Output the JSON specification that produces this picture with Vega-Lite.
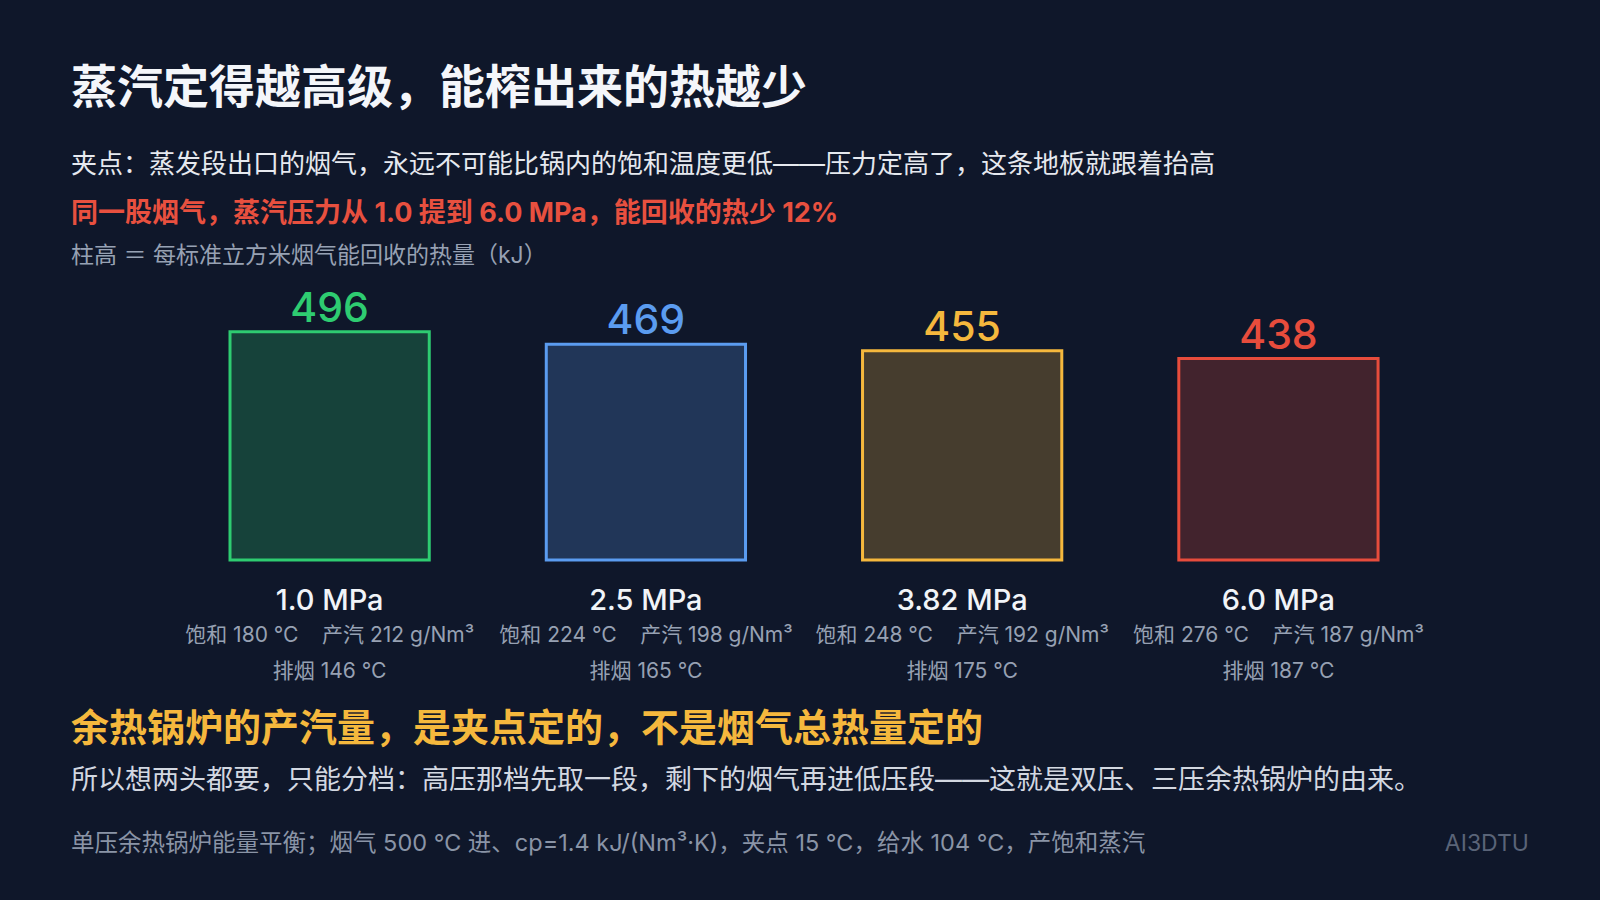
{
  "$schema": "https://vega.github.io/schema/vega-lite/v6.json",
  "padding": {"left": 71, "right": 71, "top": 66, "bottom": 49},
  "background": "#0f172a",
  "title": {
    "text": "蒸汽定得越高级，能榨出来的热越少",
    "subtitle": "夹点：蒸发段出口的烟气，永远不可能比锅内的饱和温度更低——压力定高了，这条地板就跟着抬高",
    "anchor": "start",
    "fontSize": 46,
    "fontWeight": "bold",
    "color": "#f4f6fa",
    "subtitleFontSize": 26,
    "subtitleColor": "#e6e9ef",
    "subtitlePadding": 39,
    "offset": 21
  },
  "spacing": 29,
  "vconcat": [
    {
      "title": {
        "text": "同一股烟气，蒸汽压力从 1.0 提到 6.0 MPa，能回收的热少 12%",
        "subtitle": "柱高 ＝ 每标准立方米烟气能回收的热量（kJ）",
        "anchor": "start",
        "fontSize": 27,
        "fontWeight": "bold",
        "color": "#e8503f",
        "subtitleFontSize": 23,
        "subtitleColor": "#97a1b3",
        "subtitlePadding": 17,
        "offset": 15
      },
      "width": 1458,
      "height": 276,
      "data": {
        "values": [
          {"p": "1.0 MPa", "q": 496, "sat": "饱和 180 ℃\u00a0\u00a0\u00a0\u00a0产汽 212 g/Nm³", "exh": "排烟 146 ℃"},
          {"p": "2.5 MPa", "q": 469, "sat": "饱和 224 ℃\u00a0\u00a0\u00a0\u00a0产汽 198 g/Nm³", "exh": "排烟 165 ℃"},
          {"p": "3.82 MPa", "q": 455, "sat": "饱和 248 ℃\u00a0\u00a0\u00a0\u00a0产汽 192 g/Nm³", "exh": "排烟 175 ℃"},
          {"p": "6.0 MPa", "q": 438, "sat": "饱和 276 ℃\u00a0\u00a0\u00a0\u00a0产汽 187 g/Nm³", "exh": "排烟 187 ℃"}
        ]
      },
      "encoding": {
        "x": {
          "field": "p",
          "type": "nominal",
          "sort": null,
          "scale": {"paddingInner": 0.37, "paddingOuter": 0.49, "align": 0.513},
          "axis": {
            "title": null,
            "domain": false,
            "ticks": false,
            "labelAngle": 0,
            "labelFontSize": 29,
            "labelFontWeight": 500,
            "labelColor": "#f1f4f8",
            "labelPadding": 26
          }
        }
      },
      "layer": [
        {
          "mark": {"type": "bar", "fillOpacity": 0.24, "strokeWidth": 3},
          "encoding": {
            "y": {"field": "q", "type": "quantitative", "scale": {"domain": [0, 600], "nice": false}, "axis": null},
            "color": {
              "field": "p",
              "type": "nominal",
              "scale": {"domain": ["1.0 MPa", "2.5 MPa", "3.82 MPa", "6.0 MPa"], "range": ["#2ecc71", "#5b9cf0", "#f5b83d", "#e74c3c"]},
              "legend": null
            },
            "stroke": {
              "field": "p",
              "type": "nominal",
              "scale": {"domain": ["1.0 MPa", "2.5 MPa", "3.82 MPa", "6.0 MPa"], "range": ["#2ecc71", "#5b9cf0", "#f5b83d", "#e74c3c"]},
              "legend": null
            }
          }
        },
        {
          "mark": {"type": "text", "fontSize": 41, "fontWeight": 500, "baseline": "alphabetic", "dy": -10},
          "encoding": {
            "y": {"field": "q", "type": "quantitative"},
            "text": {"field": "q"},
            "color": {"field": "p", "type": "nominal", "legend": null}
          }
        },
        {
          "mark": {"type": "text", "fontSize": 21, "color": "#97a1b3", "baseline": "middle", "dy": 76},
          "encoding": {
            "y": {"datum": 0, "type": "quantitative"},
            "text": {"field": "sat"}
          }
        },
        {
          "mark": {"type": "text", "fontSize": 21, "color": "#97a1b3", "baseline": "middle", "dy": 112},
          "encoding": {
            "y": {"datum": 0, "type": "quantitative"},
            "text": {"field": "exh"}
          }
        }
      ]
    },
    {
      "title": {
        "text": "余热锅炉的产汽量，是夹点定的，不是烟气总热量定的",
        "subtitle": "所以想两头都要，只能分档：高压那档先取一段，剩下的烟气再进低压段——这就是双压、三压余热锅炉的由来。",
        "anchor": "start",
        "fontSize": 38,
        "fontWeight": "bold",
        "color": "#f5b83d",
        "subtitleFontSize": 27,
        "subtitleColor": "#d3d8e1",
        "subtitlePadding": 19,
        "offset": 30
      },
      "width": 1458,
      "height": 40,
      "data": {
        "values": [
          {"role": "note", "label": "单压余热锅炉能量平衡；烟气 500 ℃ 进、cp=1.4 kJ/(Nm³·K)，夹点 15 ℃，给水 104 ℃，产饱和蒸汽"},
          {"role": "brand", "label": "AI3DTU"}
        ]
      },
      "layer": [
        {
          "transform": [{"filter": "datum.role === 'note'"}],
          "mark": {"type": "text", "fontSize": 23.5, "color": "#8a94a6", "align": "left", "baseline": "middle"},
          "encoding": {
            "x": {"datum": 0, "type": "quantitative", "scale": {"domain": [0, 1]}, "axis": null},
            "text": {"field": "label"}
          }
        },
        {
          "transform": [{"filter": "datum.role === 'brand'"}],
          "mark": {"type": "text", "fontSize": 23, "color": "#5a6478", "align": "right", "baseline": "middle"},
          "encoding": {
            "x": {"datum": 1, "type": "quantitative"},
            "text": {"field": "label"}
          }
        }
      ]
    }
  ],
  "config": {
    "font": "Inter, Noto Sans CJK SC",
    "view": {"stroke": null}
  }
}
